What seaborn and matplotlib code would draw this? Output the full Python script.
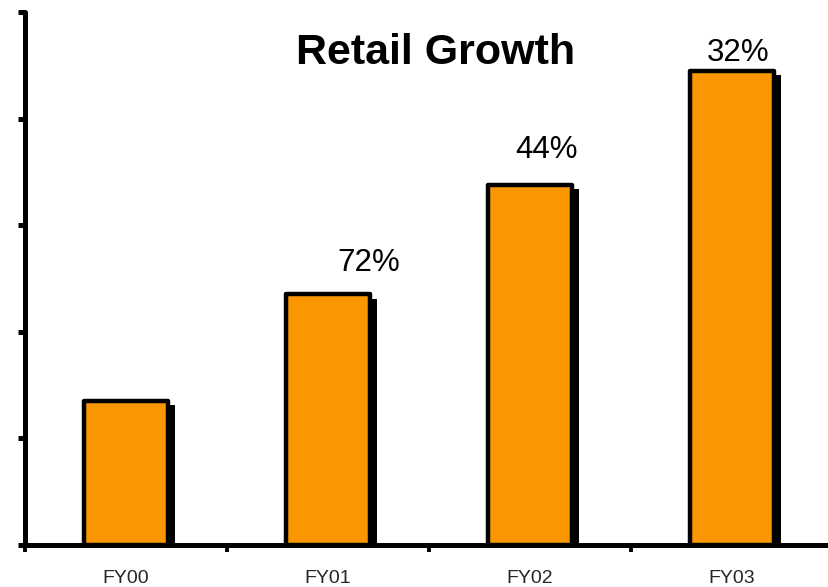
import matplotlib
matplotlib.use("Agg")
import matplotlib.pyplot as plt
import matplotlib.patheffects as pe
import seaborn as sns
import pandas as pd

# Retail size by fiscal year (relative units) and year-on-year growth labels
years = ["FY00", "FY01", "FY02", "FY03"]
retail = [1.35, 2.35, 3.38, 4.45]
growth_labels = ["", "72%", "44%", "32%"]

# label placement relative to each bar's top (x shift, y gap)
label_dx = [0.0, 0.20, 0.08, 0.03]
label_dy = [0.0, 0.30, 0.33, 0.17]

sns.set_theme(style="white")
plt.rcParams["font.family"] = ["Liberation Sans", "DejaVu Sans"]

fig = plt.figure(figsize=(8.29, 5.87), dpi=100)
W, H = 829, 587
ax = fig.add_axes([25 / W, 42 / H, 808 / W, 533 / H])

df = pd.DataFrame({"year": years, "retail": retail})
sns.barplot(data=df, x="year", y="retail", ax=ax, color="#F99600",
            saturation=1, width=0.42, edgecolor="black", linewidth=3.2)

shadow = [pe.SimplePatchShadow(offset=(4.6, -3.0), shadow_rgbFace="black", alpha=1.0),
          pe.Normal()]
for p in ax.patches:
    p.set_joinstyle("round")
    p.set_path_effects(shadow)

for i, lab in enumerate(growth_labels):
    if lab:
        ax.text(i + label_dx[i], retail[i] + label_dy[i], lab, ha="center",
                va="center", fontsize=22.5, color="black")

ax.set_xlim(-0.5, 3.5)
ax.set_ylim(0, 5)
ax.set_xlabel("")
ax.set_ylabel("")

# spines
for s in ["top", "right"]:
    ax.spines[s].set_visible(False)
for s in ["left", "bottom"]:
    ax.spines[s].set_linewidth(3.6)
    ax.spines[s].set_color("black")
    ax.spines[s].set_capstyle("round")

ax.set_yticks(range(6))
ax.set_yticklabels([])
ax.tick_params(axis="y", direction="out", length=5, width=3.6, color="black", left=True)

ax.set_xticks(range(len(years)))
ax.set_xticklabels(years, fontsize=14)
ax.set_xticks([-0.5, 0.5, 1.5, 2.5, 3.5], minor=True)
ax.tick_params(axis="x", which="major", length=0, pad=18)
ax.tick_params(axis="x", which="minor", direction="out", length=5, width=2.8,
               color="black", bottom=True)

fig.text(436 / W, 1 - 53 / H, "Retail Growth", ha="center", va="center",
         fontsize=31, fontweight="bold", color="black")

fig.savefig("out.png", dpi=100)
